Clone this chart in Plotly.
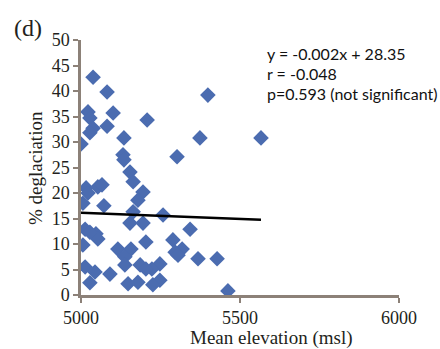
import plotly.graph_objects as go

# Mean elevation (msl) of each glacier group and its % deglaciation
elevation = [
    5038, 5082, 5399, 5022, 5101, 5028, 5208, 5082, 5038, 5028,
    5135, 5374, 5566, 5000, 5302, 5132, 5135, 5154, 5164, 5016,
    5022, 5053, 5066, 5195, 5179, 5006, 5072, 5164, 5258, 5154,
    5195, 5013, 5047, 5053, 5028, 5343, 5006, 5204, 5289, 5116,
    5157, 5138, 5318, 5296, 5305, 5368, 5428, 5248, 5223, 5248,
    5226, 5462, 5013, 5044, 5028, 5091, 5138, 5186, 5204, 5148,
    5179,
]
deglaciation = [
    42.7, 39.8, 39.2, 35.9, 35.7, 34.7, 34.3, 33.1, 32.7, 31.8,
    30.8, 30.8, 30.8, 29.6, 27.1, 27.5, 26.5, 24.1, 22.2, 21.0,
    20.0, 21.2, 21.6, 20.2, 18.6, 18.0, 17.5, 16.3, 15.7, 14.1,
    14.1, 12.9, 12.0, 11.0, 12.3, 12.9, 9.8, 10.4, 10.8, 9.0,
    9.0, 7.5, 9.0, 8.4, 7.8, 7.1, 7.1, 6.1, 5.1, 2.9,
    2.0, 0.8, 5.5, 4.5, 2.4, 4.1, 5.9, 5.9, 5.1, 2.2,
    2.5,
]

# Linear fit (slope shown rounded in the label)
slope = -0.00244
intercept = 28.35
fit_x = [min(elevation), max(elevation)]
fit_y = [slope * v + intercept for v in fit_x]

stats_lines = [
    "y = -0.002x + 28.35",
    "r = -0.048",
    "p=0.593 (not significant)",
]

x_ticks = [5000, 5500, 6000]
y_ticks = [0, 5, 10, 15, 20, 25, 30, 35, 40, 45, 50]

axis_color = "#8c8178"
serif = "Liberation Serif, Times New Roman, serif"

fig = go.Figure()
fig.add_trace(go.Scatter(
    x=elevation, y=deglaciation, mode="markers",
    marker=dict(symbol="diamond", size=12, color="#4b6cb0", line=dict(width=0)),
    showlegend=False,
))
fig.add_trace(go.Scatter(
    x=fit_x, y=fit_y, mode="lines",
    line=dict(color="black", width=2.5),
    showlegend=False,
))

axis_common = dict(
    showgrid=False, zeroline=False, showline=True,
    linecolor=axis_color, linewidth=2.5,
    ticks="outside", ticklen=5, tickwidth=2, tickcolor=axis_color,
    tickfont=dict(family=serif, size=18, color="#231f20"),
)
fig.update_xaxes(range=[5000, 6000], tickvals=x_ticks, ticktext=[str(t) for t in x_ticks], **axis_common)
fig.update_yaxes(range=[0, 50], tickvals=y_ticks, ticktext=[str(t) for t in y_ticks], **axis_common)

annotations = [
    dict(text="(d)", x=28, y=28, xanchor="center",
         font=dict(family=serif, size=24, color="#231f20")),
    dict(text="Mean elevation (msl)", x=271, y=338, xanchor="center",
         font=dict(family=serif, size=19, color="#231f20")),
    dict(text="% deglaciation", x=35, y=168, xanchor="center", textangle=-90,
         font=dict(family=serif, size=19, color="#231f20")),
]
for i, line in enumerate(stats_lines):
    annotations.append(dict(text=line, x=265, y=53 + 20 * i, xanchor="left",
                            font=dict(family="Lato, Open Sans, sans-serif", size=16, color="#111111")))

# Place annotations in pixel coordinates of the 440x349 canvas
W, H = 440, 349
ml, mr, mt, mb = 81, 41, 40, 54
pw, ph = W - ml - mr, H - mt - mb
for a in annotations:
    px, py = a.pop("x"), a.pop("y")
    a.update(xref="paper", yref="paper", yanchor="middle", showarrow=False,
             x=(px - ml) / pw, y=1 - (py - mt) / ph)

fig.update_layout(
    width=W, height=H,
    margin=dict(l=ml, r=mr, t=mt, b=mb),
    paper_bgcolor="white", plot_bgcolor="white",
    annotations=annotations,
)

fig.write_html("out.html")
